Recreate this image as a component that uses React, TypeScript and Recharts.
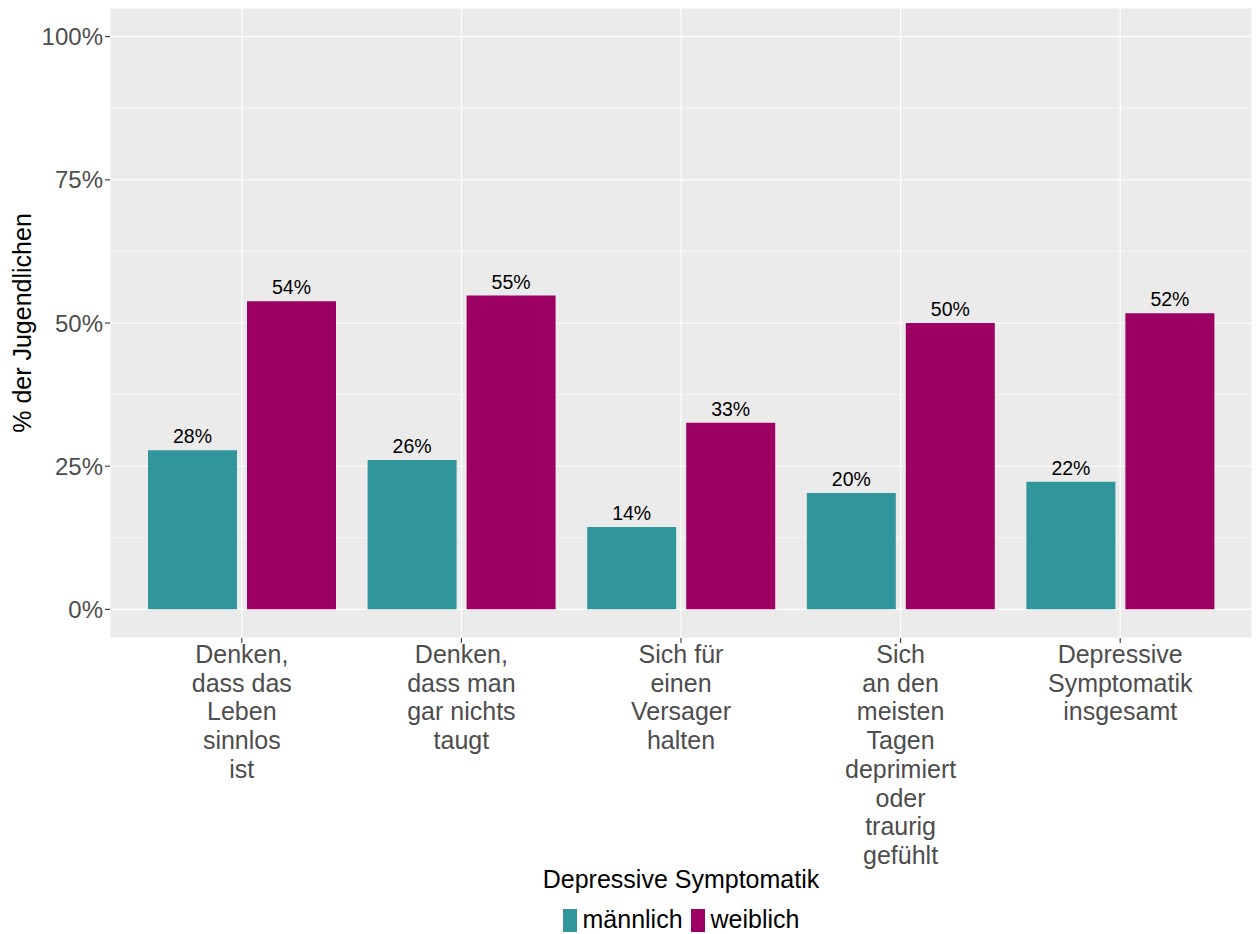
import React from "react";
import {
  BarChart,
  Bar,
  XAxis,
  YAxis,
  CartesianGrid,
  Legend,
  LabelList,
} from "recharts";

const categories = [
  "Denken,\ndass das\nLeben\nsinnlos\nist",
  "Denken,\ndass man\ngar nichts\ntaugt",
  "Sich für\neinen\nVersager\nhalten",
  "Sich\nan den\nmeisten\nTagen\ndeprimiert\noder\ntraurig\ngefühlt",
  "Depressive\nSymptomatik\ninsgesamt",
];
const maleValues = [27.8, 26.1, 14.4, 20.3, 22.3];
const femaleValues = [53.8, 54.8, 32.6, 50.0, 51.7];
const seriesNames = ["männlich", "weiblich"];
const seriesColors = ["#31969B", "#9C0062"];
const yTicks = [0, 25, 50, 75, 100];
const yMinorTicks = [12.5, 37.5, 62.5, 87.5];
const yDomain: [number, number] = [-5, 105];
const yTitle = "% der Jugendlichen";
const legendTitle = "Depressive Symptomatik";

const data = categories.map((c, i) => ({
  category: c,
  male: maleValues[i],
  female: femaleValues[i],
}));

const FONT = "'Liberation Sans', Arial, Helvetica, sans-serif";

const XTick = (props: any) => {
  const { x, y, payload } = props;
  const lines = String(payload.value).split("\n");
  return (
    <g>
      <text x={x} y={y} textAnchor="middle" fill="#4D4D4D" fontSize={25} fontFamily={FONT}>
        {lines.map((l, i) => (
          <tspan key={i} x={x} dy={i === 0 ? 20 : 28.7}>
            {l}
          </tspan>
        ))}
      </text>
    </g>
  );
};

const YTitle = (props: any) => {
  const vb = props.viewBox || { x: 10, y: 8, width: 100, height: 630 };
  const cx = vb.x + 21;
  const cy = vb.y + vb.height / 2;
  return (
    <text
      x={cx}
      y={cy}
      transform={`rotate(-90 ${cx} ${cy})`}
      textAnchor="middle"
      fill="#000000"
      fontSize={25}
      fontFamily={FONT}
    >
      {yTitle}
    </text>
  );
};

const LegendContent = (props: any) => {
  const payload = props.payload || [];
  return (
    <div style={{ position: "relative", height: 80, width: "100%", fontFamily: FONT }}>
      <div
        style={{
          position: "absolute",
          top: 10,
          left: 0,
          right: 0,
          textAlign: "center",
          fontSize: 25,
          lineHeight: "30px",
          color: "#000",
        }}
      >
        {legendTitle}
      </div>
      <div
        style={{
          position: "absolute",
          top: 50,
          left: 0,
          right: 0,
          display: "flex",
          justifyContent: "center",
          alignItems: "center",
          fontSize: 25,
          lineHeight: "30px",
          color: "#000",
        }}
      >
        {payload.map((p: any, i: number) => (
          <div key={i} style={{ display: "flex", alignItems: "center", marginRight: i === 0 ? 8 : 0 }}>
            <span
              style={{
                display: "inline-block",
                width: 14,
                height: 23,
                background: p.color,
                marginRight: 6,
                marginTop: 2,
              }}
            />
            <span>{p.value}</span>
          </div>
        ))}
      </div>
    </div>
  );
};

const minorGen = (p: any) => {
  const off = p && p.offset ? p.offset : { top: 8, height: 630 };
  const scale = p && p.yAxis && p.yAxis.scale;
  return yMinorTicks.map((v) => {
    if (typeof scale === "function") return scale(v);
    if (scale && typeof scale.map === "function") return scale.map(v);
    return off.top + (off.height * (yDomain[1] - v)) / (yDomain[1] - yDomain[0]);
  });
};

export default function App() {
  return (
    <div style={{ position: "absolute", left: 0, top: 0, width: 1259, height: 934, background: "#fff", fontFamily: FONT }}>
      <BarChart
        width={1259}
        height={934}
        data={data}
        margin={{ top: 8, right: 7, left: 10, bottom: 0 }}
        barSize={89}
        barGap={10}
      >
        <CartesianGrid fill="#EBEBEB" stroke="#FFFFFF" strokeWidth={1.1} vertical={true} horizontal={true} />
        <CartesianGrid
          stroke="#FFFFFF"
          strokeWidth={0.55}
          vertical={false}
          horizontal={true}
          horizontalCoordinatesGenerator={minorGen}
        />
        <XAxis
          dataKey="category"
          type="category"
          height={216}
          padding={{ left: 22, right: 22 }}
          axisLine={false}
          tickLine={{ stroke: "#333333", strokeWidth: 1.1 }}
          tickSize={5}
          tickMargin={0}
          tick={<XTick />}
          interval={0}
        />
        <YAxis
          type="number"
          domain={yDomain}
          ticks={yTicks}
          width={100}
          axisLine={false}
          tickLine={{ stroke: "#333333", strokeWidth: 1.1 }}
          tickSize={5}
          tickMargin={2}
          tick={{ fill: "#4D4D4D", fontSize: 24, fontFamily: FONT }}
          tickFormatter={(v: number) => `${v}%`}
          label={{ content: <YTitle /> }}
          allowDataOverflow={true}
        />
        <Legend
          verticalAlign="bottom"
          align="center"
          wrapperStyle={{ left: 110, width: 1142, bottom: 0, height: 80 }}
          content={<LegendContent />}
        />
        <Bar dataKey="male" name={seriesNames[0]} fill={seriesColors[0]} isAnimationActive={false}>
          <LabelList
            dataKey="male"
            position="top"
            offset={7}
            fill="#000000"
            fontSize={19.5}
            fontFamily={FONT}
            formatter={(v: any) => `${Math.round(Number(v))}%`}
          />
        </Bar>
        <Bar dataKey="female" name={seriesNames[1]} fill={seriesColors[1]} isAnimationActive={false}>
          <LabelList
            dataKey="female"
            position="top"
            offset={7}
            fill="#000000"
            fontSize={19.5}
            fontFamily={FONT}
            formatter={(v: any) => `${Math.round(Number(v))}%`}
          />
        </Bar>
      </BarChart>
    </div>
  );
}
